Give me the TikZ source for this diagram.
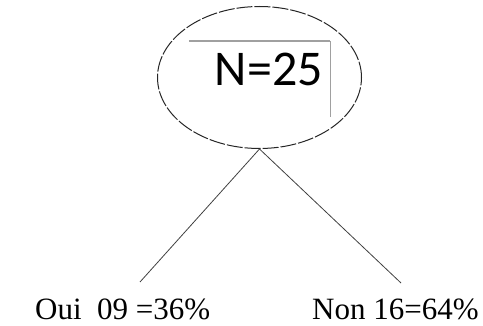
\documentclass[tikz,border=0pt]{standalone}
\usepackage{fontspec}
\setmainfont{Liberation Serif}
\newfontfamily\carlito{Carlito}
\usepackage{tikz}
\usetikzlibrary{shapes.geometric}
\definecolor{cadregris}{HTML}{A0A0A0}

\begin{document}
\begin{tikzpicture}[
  x=1pt, y=-1pt,
  racine/.style={ellipse, draw=black!85, dash pattern=on 16pt off 2pt, line width=1pt, minimum width=204pt, minimum height=142pt, inner sep=0pt},
  cadre/.style={rectangle, minimum width=141pt, minimum height=76pt, inner sep=0pt},
  effectif/.style={font=\carlito\fontsize{50}{50}\selectfont, anchor=base east, inner sep=0pt},
  etiquette/.style={font=\fontsize{31}{31}\selectfont, anchor=base west, inner sep=0pt},
  trait/.style={line width=0.8pt, draw=black!75},
  bord/.style={draw=cadregris}
]
  \useasboundingbox (0,0) rectangle (483,326);
  \node[racine] (racine) at (259.5,77.5) {};
  \node[cadre] (cadre) at (259.5,79) {};
  \node[effectif] (total) at (323,86) {N=25};
  \coordinate (piedoui) at (140,282);
  \coordinate (piednon) at (401,283);
  \node[etiquette] (oui) at (35,319.5) {Oui\ \ 09 =36\%};
  \node[etiquette] (non) at (312,319.5) {Non 16=64\%};

  \draw[bord, line width=2pt] (cadre.north west) -- (cadre.north east);
  \draw[bord, line width=1pt] (cadre.north east) -- (cadre.south east);
  \draw[trait] (racine.south) -- (piedoui);
  \draw[trait] (racine.south) -- (piednon);
\end{tikzpicture}
\end{document}
